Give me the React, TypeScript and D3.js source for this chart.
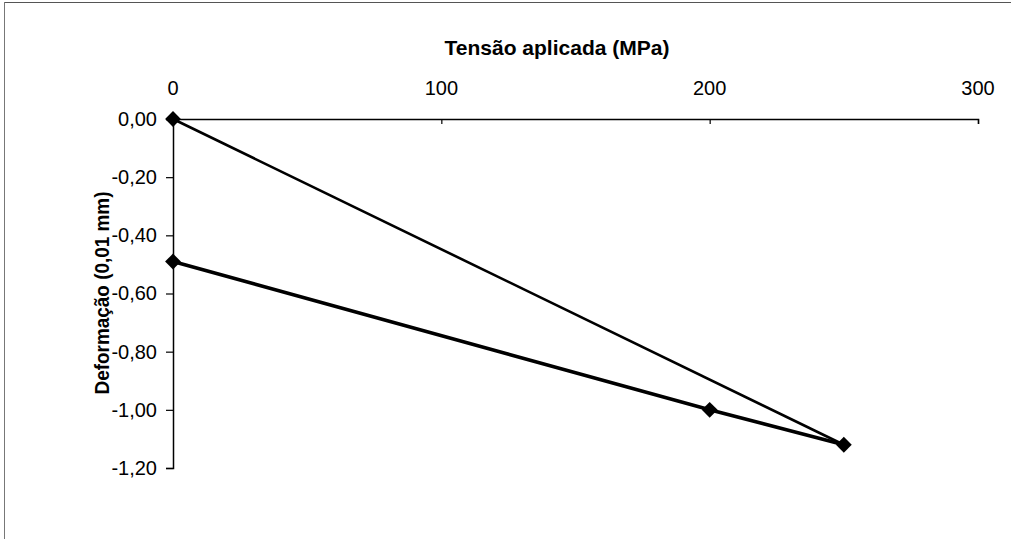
import React, { useRef, useEffect } from 'react';
import * as d3 from 'd3';

const tensao = [0, 250, 200, 0];
const deformacao = [0, -1.12, -1.0, -0.49];
const xTicks = [0, 100, 200, 300];
const yTicks = [0, -0.2, -0.4, -0.6, -0.8, -1.0, -1.2];

const W = 1011;
const H = 539;

const App: React.FC = () => {
    const ref = useRef<SVGSVGElement>(null);

    useEffect(() => {
        if (!ref.current) return;
        const svg = d3.select(ref.current);
        svg.selectAll("*").remove();

        const x = d3.scaleLinear().domain([0, 300]).range([173, 978]);
        const y = d3.scaleLinear().domain([0, -1.2]).range([119, 468]);
        const font = "'Liberation Sans', Arial, sans-serif";

        // frame
        svg.append("line").attr("x1", 4).attr("x2", W).attr("y1", 2.5).attr("y2", 2.5)
            .attr("stroke", "#555").attr("stroke-width", 1);
        svg.append("line").attr("x1", 4.5).attr("x2", 4.5).attr("y1", 2).attr("y2", H)
            .attr("stroke", "#777").attr("stroke-width", 1);

        // x axis on top (at y = 0)
        const xAxis = d3.axisBottom(x).tickValues(xTicks).tickSize(5).tickFormat(() => "");
        const gx = svg.append("g").attr("transform", `translate(0,${y(0)})`).call(xAxis);
        gx.select(".domain").attr("stroke", "#000").attr("stroke-width", 1.5);
        gx.selectAll(".tick line").attr("stroke", "#000").attr("stroke-width", 1.2);

        svg.append("g").selectAll("text").data(xTicks).enter().append("text")
            .attr("x", d => x(d)).attr("y", 95)
            .attr("text-anchor", "middle")
            .attr("font-family", font).attr("font-size", 20)
            .text(d => d3.format("d")(d));

        // y axis
        const yAxis = d3.axisLeft(y).tickValues(yTicks).tickSize(7)
            .tickFormat(d => d3.format(".2f")(d as number).replace("−", "-").replace(".", ","));
        const gy = svg.append("g").attr("transform", `translate(${x(0)},0)`).call(yAxis);
        gy.select(".domain").attr("stroke", "#000").attr("stroke-width", 1.5);
        gy.selectAll(".tick line").attr("stroke", "#000").attr("stroke-width", 1.2);
        gy.selectAll(".tick text").attr("font-family", font).attr("font-size", 20)
            .attr("fill", "#000").attr("x", -16);

        // titles
        svg.append("text").attr("x", 557).attr("y", 55).attr("text-anchor", "middle")
            .attr("font-family", font).attr("font-size", 21).attr("font-weight", "bold")
            .attr("textLength", 225).attr("lengthAdjust", "spacingAndGlyphs")
            .text("Tensão aplicada (MPa)");
        svg.append("text")
            .attr("transform", `translate(109,293) rotate(-90)`)
            .attr("text-anchor", "middle")
            .attr("font-family", font).attr("font-size", 20).attr("font-weight", "bold")
            .attr("textLength", 203).attr("lengthAdjust", "spacingAndGlyphs")
            .text("Deformação (0,01 mm)");

        // series
        const pts = tensao.map((t, i) => [t, deformacao[i]] as [number, number]);
        const line = d3.line<[number, number]>().x(d => x(d[0])).y(d => y(d[1]));
        svg.append("path").datum(pts.slice(0, 2)).attr("d", line)
            .attr("fill", "none").attr("stroke", "#000").attr("stroke-width", 2.6);
        svg.append("path").datum(pts.slice(1)).attr("d", line)
            .attr("fill", "none").attr("stroke", "#000").attr("stroke-width", 3.6)
            .attr("stroke-linejoin", "round");

        const diamond = d3.symbol().type(d3.symbolSquare).size(125);
        svg.append("g").selectAll("path").data(pts).enter().append("path")
            .attr("d", diamond)
            .attr("transform", d => `translate(${x(d[0])},${y(d[1])}) rotate(45)`)
            .attr("fill", "#000");
    }, []);

    return (
        <svg ref={ref} width={W} height={H}
            style={{ position: "absolute", left: 0, top: 0, background: "#fff" }} />
    );
};

export default App;
